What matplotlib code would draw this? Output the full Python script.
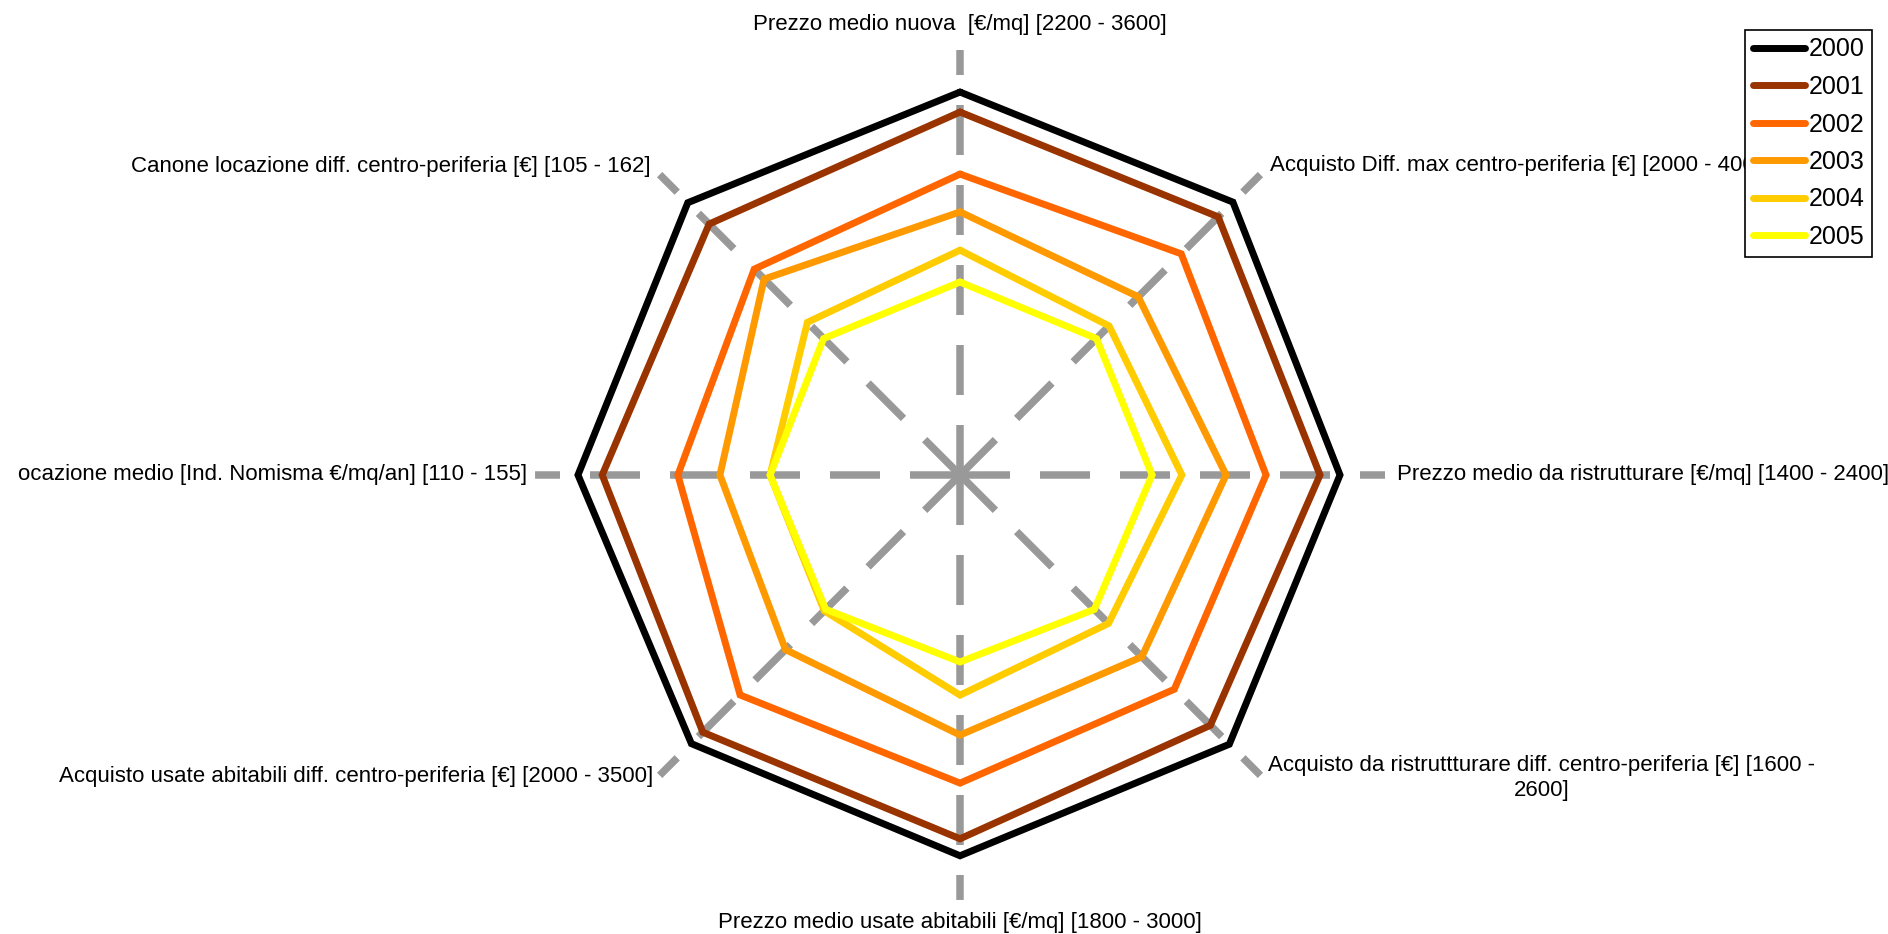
import numpy as np
import matplotlib
matplotlib.use('Agg')
from matplotlib import pyplot as plt
from matplotlib.patches import Rectangle

plt.rcParams['font.family'] = ['Liberation Sans', 'DejaVu Sans']
plt.rcParams['lines.scale_dashes'] = False

# assi del radar, in senso orario a partire dall'alto
axis_labels = [
    'Prezzo medio nuova  [€/mq] [2200 - 3600]',
    'Acquisto Diff. max centro-periferia [€] [2000 - 4000]',
    'Prezzo medio da ristrutturare [€/mq] [1400 - 2400]',
    'Acquisto da ristruttturare diff. centro-periferia [€] [1600 -\n2600]',
    'Prezzo medio usate abitabili [€/mq] [1800 - 3000]',
    'Acquisto usate abitabili diff. centro-periferia [€] [2000 - 3500]',
    'Canone locazione medio [Ind. Nomisma €/mq/an] [110 - 155]',
    'Canone locazione diff. centro-periferia [€] [105 - 162]',
]

years = ['2000', '2001', '2002', '2003', '2004', '2005']
colors = ['#000000', '#993300', '#ff6600', '#ff9900', '#ffcc00', '#ffff00']

# valori normalizzati sulla scala di ciascun asse (0 = centro, 1 = fine asse)
v2000 = [0.901, 0.908, 0.894, 0.896, 0.896, 0.894, 0.899, 0.906]
v2001 = [0.854, 0.859, 0.847, 0.833, 0.856, 0.856, 0.842, 0.835]
v2002 = [0.708, 0.736, 0.720, 0.713, 0.725, 0.732, 0.664, 0.685]
v2003 = [0.619, 0.593, 0.626, 0.605, 0.612, 0.581, 0.565, 0.652]
v2004 = [0.529, 0.496, 0.522, 0.494, 0.518, 0.452, 0.447, 0.508]
v2005 = [0.454, 0.454, 0.452, 0.447, 0.440, 0.447, 0.447, 0.454]
series = [v2000, v2001, v2002, v2003, v2004, v2005]


def main():
    fig = plt.figure(figsize=(18.88, 9.34), dpi=100)
    ax = fig.add_axes([0.2834, 0.0364, 0.4502, 0.9101], projection='polar')
    ax.set_theta_zero_location('N')
    ax.set_theta_direction(-1)
    ax.set_ylim(0, 1)
    ax.axis('off')

    n = len(axis_labels)
    angles = np.arange(n) * 2 * np.pi / n

    # raggi tratteggiati
    for a in angles:
        ax.plot([a, a], [0, 1], color='#999999', lw=5.4, dashes=(36, 21.6),
                dash_capstyle='butt', zorder=1)

    # una spezzata chiusa per anno
    closed = np.append(angles, angles[0])
    for year, vals, col in zip(years, series, colors):
        ax.plot(closed, vals + vals[:1], color=col, lw=5, label=year,
                solid_joinstyle='miter', solid_capstyle='round', zorder=2)

    # etichette degli assi: (angolo in gradi, raggio, allineamenti)
    label_pos = [
        (0, 1.06, 'center', 'center'),
        (45, 1.03, 'left', 'center'),
        (90, 1.028, 'left', 'center'),
        (134.5, 1.017, 'left', 'center'),
        (180, 1.052, 'center', 'center'),
        (225.5, 1.011, 'right', 'center'),
        (270, 1.019, 'right', 'center'),
        (315, 1.028, 'right', 'center'),
    ]
    clip = Rectangle((17 / 1888, 0), 1, 1, transform=fig.transFigure)
    for text, (deg, r, ha, va) in zip(axis_labels, label_pos):
        t = ax.text(np.deg2rad(deg), r, text, ha=ha, va=va, fontsize=16,
                    multialignment='center', clip_on=False)
        t.set_clip_path(clip)
        t.set_clip_on(True)

    leg = fig.legend(loc='upper left', bbox_to_anchor=(1745 / 1888, 1 - 30 / 934),
                     fontsize=18, frameon=True, fancybox=False, edgecolor='black',
                     framealpha=1, borderpad=0.3, labelspacing=0.54,
                     handlelength=2.1, handletextpad=0.15, borderaxespad=0)
    leg.get_frame().set_linewidth(1.2)

    fig.savefig('out.png', dpi=100)
    plt.close(fig)


if __name__ == '__main__':
    main()
